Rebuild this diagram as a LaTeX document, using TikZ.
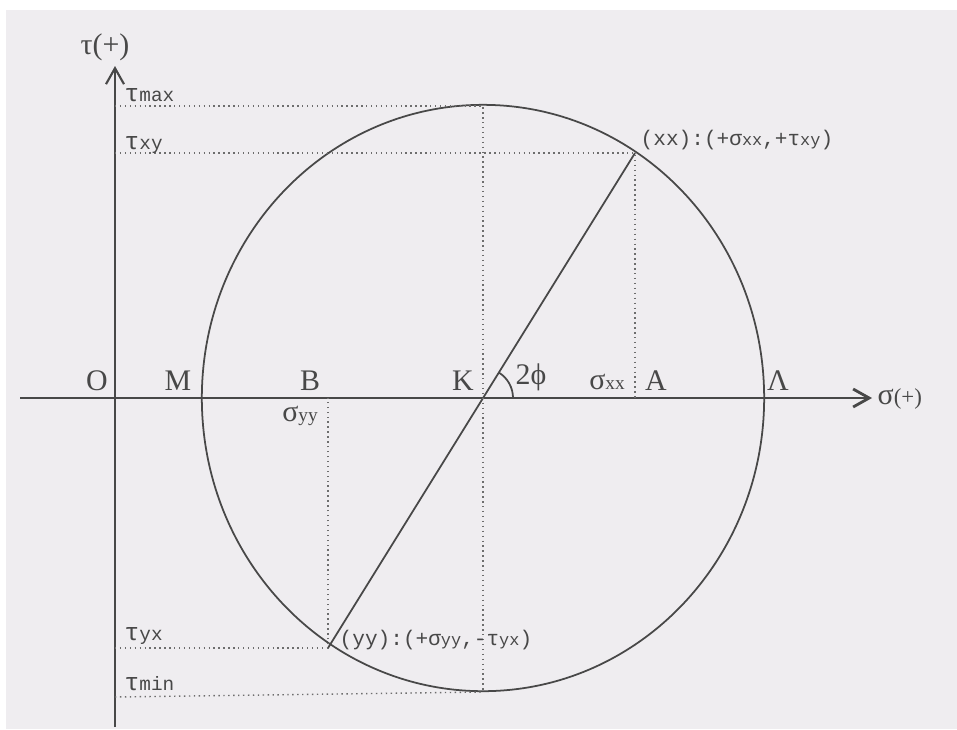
\documentclass[tikz,border=0pt]{standalone}
\usepackage{fontspec}
\setmainfont{Liberation Serif}
\setmonofont{Liberation Mono}
\usetikzlibrary{arrows.meta}
\definecolor{ink}{RGB}{72,72,72}
\definecolor{paper}{RGB}{239,237,240}
\newcommand{\low}[1]{{\fontsize{5.5}{6}\selectfont #1}}
\newcommand{\lowpt}[1]{{\fontsize{4.8}{5}\selectfont #1}}

\begin{document}
\begin{tikzpicture}[
    x=0.01cm, y=-0.01cm,
    axis/.style={draw=ink, line width=0.6pt, -{Straight Barb[length=1.6mm, width=1.8mm]}},
    guide/.style={draw=ink!80, densely dotted, line width=0.4pt},
    curve/.style={draw=ink, line width=0.5pt},
    letter/.style={text=ink, font=\fontsize{8.5}{10}\selectfont, inner sep=0pt, anchor=base},
    tlabel/.style={text=ink, font=\ttfamily\fontsize{7}{8}\selectfont, inner sep=0pt, anchor=base west},
    plabel/.style={text=ink, font=\ttfamily\fontsize{6}{7}\selectfont, inner sep=0pt, anchor=base west},
]
    \useasboundingbox (0,0) rectangle (957,729);
    \fill[paper] (6,10) rectangle (957,729);

    % axes
    \coordinate (taubot) at (115,727);
    \coordinate (tautop) at (115,66);
    \coordinate (sigleft) at (20,398);
    \coordinate (sigright) at (872,398);
    \draw[axis] (taubot) -- (tautop);
    \draw[axis, line width=0.8pt] (sigleft) -- (sigright);
    \node[letter] (tauaxis) at (105,54) {τ(+)};
    \node[letter, anchor=base west] (sigaxis) at (877,404) {σ{\fontsize{6.5}{7}\selectfont(+)}};

    % Mohr circle
    \coordinate (K) at (483,398);
    \coordinate (top) at (483,106);
    \coordinate (bot) at (483,692);
    \coordinate (xx) at (635,153);
    \coordinate (yy) at (328,648);
    \draw[curve] (K) ellipse [x radius=2.81cm, y radius=2.93cm];
    \draw[curve] (yy) -- (xx);
    \draw[curve] ([xshift=0.3cm]K) arc[start angle=0, end angle=58, radius=0.3cm];

    % projections
    \coordinate (tmax) at (115,106);
    \coordinate (txy) at (115,153);
    \coordinate (tyx) at (115,648);
    \coordinate (tmin) at (115,697);
    \coordinate (sxx) at (635,398);
    \coordinate (syy) at (328,398);
    \draw[guide] (tmax) -- (top) -- (bot);
    \draw[guide] (txy) -- (xx) -- (sxx);
    \draw[guide] (tyx) -- (yy) -- (syy);
    \draw[guide] (tmin) -- (bot);

    % labels on the sigma axis
    \node[letter] (O) at (97,390) {O};
    \node[letter] (M) at (178,390) {M};
    \node[letter] (B) at (310,390) {B};
    \node[letter] (Klab) at (463,390) {K};
    \node[letter] (phi) at (531,384) {2ϕ};
    \node[letter] (sigxx) at (607,389) {σ\low{xx}};
    \node[letter] (A) at (656,390) {A};
    \node[letter] (L) at (778,390) {Λ};
    \node[letter] (sigyy) at (300,421) {σ\low{yy}};

    % labels on the tau axis
    \node[tlabel] (taumax) at (124,101) {τ\low{max}};
    \node[tlabel] (tauxy) at (124,149) {τ\low{xy}};
    \node[tlabel] (tauyx) at (124,640) {τ\low{yx}};
    \node[tlabel] (taumin) at (124,690) {τ\low{min}};

    % stress points
    \node[plabel] (xxlab) at (640,145) {(xx):(+σ\lowpt{xx},+τ\lowpt{xy})};
    \node[plabel] (yylab) at (339,645) {(yy):(+σ\lowpt{yy},-τ\lowpt{yx})};
\end{tikzpicture}
\end{document}
